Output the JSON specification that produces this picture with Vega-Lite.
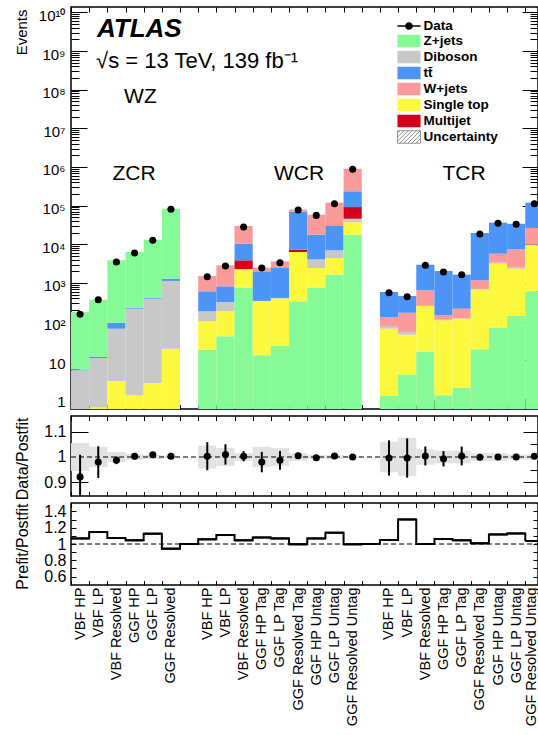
{
  "$schema": "https://vega.github.io/schema/vega-lite/v6.json",
  "autosize": {"type": "pad"},
  "padding": {"left": 13, "top": 5, "right": 0, "bottom": 0},
  "bounds": "flush",
  "spacing": 7,
  "config": {
    "font": "Liberation Sans",
    "view": {"stroke": "#000000", "strokeWidth": 1.5},
    "axis": {"domain": false, "grid": false, "ticks": true, "zindex": 1, "tickColor": "#000000", "tickWidth": 1, "labelColor": "#000000", "titleColor": "#000000", "labelFont": "Liberation Sans", "titleFont": "Liberation Sans", "titleFontWeight": "normal"}
  },
  "datasets": {
    "stack": [
      {"bin": 0, "region": "ZCR", "process": "Diboson", "n": 5.5},
      {"bin": 0, "region": "ZCR", "process": "tt\u0304", "n": 0.3},
      {"bin": 0, "region": "ZCR", "process": "Z+jets", "n": 172},
      {"bin": 1, "region": "ZCR", "process": "Single top", "n": 0.6},
      {"bin": 1, "region": "ZCR", "process": "Diboson", "n": 10.9},
      {"bin": 1, "region": "ZCR", "process": "tt\u0304", "n": 0.9},
      {"bin": 1, "region": "ZCR", "process": "Z+jets", "n": 358},
      {"bin": 2, "region": "ZCR", "process": "Single top", "n": 2.9},
      {"bin": 2, "region": "ZCR", "process": "Diboson", "n": 63},
      {"bin": 2, "region": "ZCR", "process": "tt\u0304", "n": 28},
      {"bin": 2, "region": "ZCR", "process": "Z+jets", "n": 3776},
      {"bin": 3, "region": "ZCR", "process": "Single top", "n": 1.25},
      {"bin": 3, "region": "ZCR", "process": "Diboson", "n": 215},
      {"bin": 3, "region": "ZCR", "process": "tt\u0304", "n": 9},
      {"bin": 3, "region": "ZCR", "process": "Z+jets", "n": 6075},
      {"bin": 4, "region": "ZCR", "process": "Single top", "n": 2.6},
      {"bin": 4, "region": "ZCR", "process": "Diboson", "n": 390},
      {"bin": 4, "region": "ZCR", "process": "tt\u0304", "n": 17},
      {"bin": 4, "region": "ZCR", "process": "Z+jets", "n": 12790},
      {"bin": 5, "region": "ZCR", "process": "Single top", "n": 20},
      {"bin": 5, "region": "ZCR", "process": "Diboson", "n": 1110},
      {"bin": 5, "region": "ZCR", "process": "tt\u0304", "n": 160},
      {"bin": 5, "region": "ZCR", "process": "Z+jets", "n": 81700},
      {"bin": 7, "region": "WCR", "process": "Z+jets", "n": 18.8},
      {"bin": 7, "region": "WCR", "process": "Single top", "n": 85},
      {"bin": 7, "region": "WCR", "process": "Diboson", "n": 81},
      {"bin": 7, "region": "WCR", "process": "tt\u0304", "n": 425},
      {"bin": 7, "region": "WCR", "process": "W+jets", "n": 900},
      {"bin": 8, "region": "WCR", "process": "Z+jets", "n": 42},
      {"bin": 8, "region": "WCR", "process": "Single top", "n": 146},
      {"bin": 8, "region": "WCR", "process": "Diboson", "n": 134},
      {"bin": 8, "region": "WCR", "process": "tt\u0304", "n": 498},
      {"bin": 8, "region": "WCR", "process": "W+jets", "n": 2040},
      {"bin": 9, "region": "WCR", "process": "Z+jets", "n": 755},
      {"bin": 9, "region": "WCR", "process": "Single top", "n": 1505},
      {"bin": 9, "region": "WCR", "process": "Diboson", "n": 30},
      {"bin": 9, "region": "WCR", "process": "Multijet", "n": 1570},
      {"bin": 9, "region": "WCR", "process": "tt\u0304", "n": 6540},
      {"bin": 9, "region": "WCR", "process": "W+jets", "n": 19400},
      {"bin": 10, "region": "WCR", "process": "Z+jets", "n": 13.5},
      {"bin": 10, "region": "WCR", "process": "Single top", "n": 322},
      {"bin": 10, "region": "WCR", "process": "Diboson", "n": 9},
      {"bin": 10, "region": "WCR", "process": "tt\u0304", "n": 1655},
      {"bin": 10, "region": "WCR", "process": "W+jets", "n": 480},
      {"bin": 11, "region": "WCR", "process": "Z+jets", "n": 23.5},
      {"bin": 11, "region": "WCR", "process": "Single top", "n": 370},
      {"bin": 11, "region": "WCR", "process": "Diboson", "n": 17},
      {"bin": 11, "region": "WCR", "process": "tt\u0304", "n": 2030},
      {"bin": 11, "region": "WCR", "process": "W+jets", "n": 1190},
      {"bin": 12, "region": "WCR", "process": "Z+jets", "n": 336},
      {"bin": 12, "region": "WCR", "process": "Single top", "n": 5994},
      {"bin": 12, "region": "WCR", "process": "Multijet", "n": 920},
      {"bin": 12, "region": "WCR", "process": "tt\u0304", "n": 62750},
      {"bin": 12, "region": "WCR", "process": "W+jets", "n": 9000},
      {"bin": 13, "region": "WCR", "process": "Z+jets", "n": 755},
      {"bin": 13, "region": "WCR", "process": "Single top", "n": 1685},
      {"bin": 13, "region": "WCR", "process": "Diboson", "n": 1650},
      {"bin": 13, "region": "WCR", "process": "tt\u0304", "n": 13610},
      {"bin": 13, "region": "WCR", "process": "W+jets", "n": 40600},
      {"bin": 14, "region": "WCR", "process": "Z+jets", "n": 1640},
      {"bin": 14, "region": "WCR", "process": "Single top", "n": 2790},
      {"bin": 14, "region": "WCR", "process": "Diboson", "n": 2570},
      {"bin": 14, "region": "WCR", "process": "tt\u0304", "n": 22800},
      {"bin": 14, "region": "WCR", "process": "W+jets", "n": 90200},
      {"bin": 15, "region": "WCR", "process": "Z+jets", "n": 17700},
      {"bin": 15, "region": "WCR", "process": "Single top", "n": 20000},
      {"bin": 15, "region": "WCR", "process": "Diboson", "n": 8300},
      {"bin": 15, "region": "WCR", "process": "Multijet", "n": 46000},
      {"bin": 15, "region": "WCR", "process": "tt\u0304", "n": 143000},
      {"bin": 15, "region": "WCR", "process": "W+jets", "n": 665000},
      {"bin": 17, "region": "TCR", "process": "Z+jets", "n": 1.2},
      {"bin": 17, "region": "TCR", "process": "Single top", "n": 64.8},
      {"bin": 17, "region": "TCR", "process": "Diboson", "n": 11},
      {"bin": 17, "region": "TCR", "process": "W+jets", "n": 55},
      {"bin": 17, "region": "TCR", "process": "tt\u0304", "n": 453},
      {"bin": 18, "region": "TCR", "process": "Z+jets", "n": 4.3},
      {"bin": 18, "region": "TCR", "process": "Single top", "n": 41.7},
      {"bin": 18, "region": "TCR", "process": "Diboson", "n": 8},
      {"bin": 18, "region": "TCR", "process": "W+jets", "n": 116},
      {"bin": 18, "region": "TCR", "process": "tt\u0304", "n": 290},
      {"bin": 19, "region": "TCR", "process": "Z+jets", "n": 17},
      {"bin": 19, "region": "TCR", "process": "Single top", "n": 237},
      {"bin": 19, "region": "TCR", "process": "Diboson", "n": 3},
      {"bin": 19, "region": "TCR", "process": "W+jets", "n": 393},
      {"bin": 19, "region": "TCR", "process": "tt\u0304", "n": 2320},
      {"bin": 20, "region": "TCR", "process": "Z+jets", "n": 1.25},
      {"bin": 20, "region": "TCR", "process": "Single top", "n": 106.75},
      {"bin": 20, "region": "TCR", "process": "Diboson", "n": 4},
      {"bin": 20, "region": "TCR", "process": "W+jets", "n": 34},
      {"bin": 20, "region": "TCR", "process": "tt\u0304", "n": 1894},
      {"bin": 21, "region": "TCR", "process": "Z+jets", "n": 1.96},
      {"bin": 21, "region": "TCR", "process": "Single top", "n": 117},
      {"bin": 21, "region": "TCR", "process": "Diboson", "n": 4},
      {"bin": 21, "region": "TCR", "process": "W+jets", "n": 93},
      {"bin": 21, "region": "TCR", "process": "tt\u0304", "n": 1424},
      {"bin": 22, "region": "TCR", "process": "Z+jets", "n": 19.3},
      {"bin": 22, "region": "TCR", "process": "Single top", "n": 668},
      {"bin": 22, "region": "TCR", "process": "Diboson", "n": 13},
      {"bin": 22, "region": "TCR", "process": "W+jets", "n": 475},
      {"bin": 22, "region": "TCR", "process": "tt\u0304", "n": 18425},
      {"bin": 23, "region": "TCR", "process": "Z+jets", "n": 70},
      {"bin": 23, "region": "TCR", "process": "Single top", "n": 3080},
      {"bin": 23, "region": "TCR", "process": "Diboson", "n": 200},
      {"bin": 23, "region": "TCR", "process": "W+jets", "n": 2370},
      {"bin": 23, "region": "TCR", "process": "tt\u0304", "n": 30580},
      {"bin": 24, "region": "TCR", "process": "Z+jets", "n": 140},
      {"bin": 24, "region": "TCR", "process": "Single top", "n": 2200},
      {"bin": 24, "region": "TCR", "process": "Diboson", "n": 180},
      {"bin": 24, "region": "TCR", "process": "W+jets", "n": 4880},
      {"bin": 24, "region": "TCR", "process": "tt\u0304", "n": 26600},
      {"bin": 25, "region": "TCR", "process": "Z+jets", "n": 610},
      {"bin": 25, "region": "TCR", "process": "Single top", "n": 8830},
      {"bin": 25, "region": "TCR", "process": "Diboson", "n": 560},
      {"bin": 25, "region": "TCR", "process": "W+jets", "n": 16500},
      {"bin": 25, "region": "TCR", "process": "tt\u0304", "n": 93500}
    ],
    "obs": [
      {"bin": 0, "n": 155}, {"bin": 1, "n": 370}, {"bin": 2, "n": 3480}, {"bin": 3, "n": 5970},
      {"bin": 4, "n": 12700}, {"bin": 5, "n": 80400},
      {"bin": 7, "n": 1455}, {"bin": 8, "n": 2750}, {"bin": 9, "n": 28000}, {"bin": 10, "n": 2440},
      {"bin": 11, "n": 3350}, {"bin": 12, "n": 77000}, {"bin": 13, "n": 56000}, {"bin": 14, "n": 112000},
      {"bin": 15, "n": 870000},
      {"bin": 17, "n": 560}, {"bin": 18, "n": 440}, {"bin": 19, "n": 2870}, {"bin": 20, "n": 1920},
      {"bin": 21, "n": 1640}, {"bin": 22, "n": 18500}, {"bin": 23, "n": 35000}, {"bin": 24, "n": 33000},
      {"bin": 25, "n": 112000}
    ],
    "ratio": [
      {"bin": 0, "r": 0.922, "elo": 0.83, "ehi": 1.009, "ulo": 0.945, "uhi": 1.055},
      {"bin": 1, "r": 0.98, "elo": 0.918, "ehi": 1.042, "ulo": 0.96, "uhi": 1.04},
      {"bin": 2, "r": 0.987, "elo": 0.972, "ehi": 1.002, "ulo": 0.98, "uhi": 1.02},
      {"bin": 3, "r": 1.003, "elo": 0.99, "ehi": 1.016, "ulo": 0.988, "uhi": 1.012},
      {"bin": 4, "r": 1.009, "elo": 1.004, "ehi": 1.014, "ulo": 0.992, "uhi": 1.008},
      {"bin": 5, "r": 1.003, "elo": 0.999, "ehi": 1.007, "ulo": 0.995, "uhi": 1.005},
      {"bin": 7, "r": 1.003, "elo": 0.948, "ehi": 1.058, "ulo": 0.955, "uhi": 1.045},
      {"bin": 8, "r": 1.01, "elo": 0.97, "ehi": 1.05, "ulo": 0.965, "uhi": 1.035},
      {"bin": 9, "r": 1.003, "elo": 0.983, "ehi": 1.023, "ulo": 0.985, "uhi": 1.015},
      {"bin": 10, "r": 0.98, "elo": 0.94, "ehi": 1.02, "ulo": 0.96, "uhi": 1.04},
      {"bin": 11, "r": 0.987, "elo": 0.95, "ehi": 1.024, "ulo": 0.965, "uhi": 1.035},
      {"bin": 12, "r": 1.005, "elo": 0.993, "ehi": 1.017, "ulo": 0.985, "uhi": 1.015},
      {"bin": 13, "r": 0.997, "elo": 0.99, "ehi": 1.004, "ulo": 0.993, "uhi": 1.007},
      {"bin": 14, "r": 1.004, "elo": 0.998, "ehi": 1.01, "ulo": 0.992, "uhi": 1.008},
      {"bin": 15, "r": 1.0, "elo": 0.997, "ehi": 1.003, "ulo": 0.996, "uhi": 1.004},
      {"bin": 17, "r": 0.996, "elo": 0.927, "ehi": 1.065, "ulo": 0.94, "uhi": 1.06},
      {"bin": 18, "r": 0.996, "elo": 0.919, "ehi": 1.073, "ulo": 0.925, "uhi": 1.075},
      {"bin": 19, "r": 1.004, "elo": 0.967, "ehi": 1.041, "ulo": 0.97, "uhi": 1.03},
      {"bin": 20, "r": 0.993, "elo": 0.963, "ehi": 1.023, "ulo": 0.975, "uhi": 1.025},
      {"bin": 21, "r": 1.004, "elo": 0.967, "ehi": 1.041, "ulo": 0.975, "uhi": 1.025},
      {"bin": 22, "r": 0.999, "elo": 0.993, "ehi": 1.005, "ulo": 0.985, "uhi": 1.015},
      {"bin": 23, "r": 1.0, "elo": 0.99, "ehi": 1.01, "ulo": 0.985, "uhi": 1.015},
      {"bin": 24, "r": 1.0, "elo": 0.992, "ehi": 1.008, "ulo": 0.99, "uhi": 1.01},
      {"bin": 25, "r": 1.003, "elo": 0.993, "ehi": 1.013, "ulo": 0.99, "uhi": 1.01}
    ],
    "prefit": [
      {"bin": 0, "r": 1.069}, {"bin": 1, "r": 1.147}, {"bin": 2, "r": 1.073}, {"bin": 3, "r": 1.045},
      {"bin": 4, "r": 1.127}, {"bin": 5, "r": 0.943}, {"bin": 6, "r": 1.0}, {"bin": 7, "r": 1.057},
      {"bin": 8, "r": 1.11}, {"bin": 9, "r": 1.045}, {"bin": 10, "r": 1.08}, {"bin": 11, "r": 1.069},
      {"bin": 12, "r": 0.996}, {"bin": 13, "r": 1.069}, {"bin": 14, "r": 1.139}, {"bin": 15, "r": 0.996},
      {"bin": 16, "r": 1.0}, {"bin": 17, "r": 1.049}, {"bin": 18, "r": 1.302}, {"bin": 19, "r": 1.0},
      {"bin": 20, "r": 1.061}, {"bin": 21, "r": 1.045}, {"bin": 22, "r": 1.008}, {"bin": 23, "r": 1.118},
      {"bin": 24, "r": 1.13}, {"bin": 25, "r": 1.037}
    ]
  },
  "vconcat": [
    {
      "width": 467,
      "height": 402,
      "resolve": {"axis": {"x": "independent", "y": "independent"}},
      "layer": [
        {
          "data": {"name": "stack"},
          "transform": [
            {"calculate": "indexof(datum.region === 'ZCR' ? ['Single top','Diboson','tt\u0304','Z+jets'] : datum.region === 'WCR' ? ['Z+jets','Single top','Diboson','Multijet','tt\u0304','W+jets'] : ['Z+jets','Single top','Diboson','W+jets','tt\u0304'], datum.process)", "as": "rank"},
            {"window": [{"op": "sum", "field": "n", "as": "top"}], "groupby": ["bin"], "sort": [{"field": "rank", "order": "ascending"}], "frame": [null, 0]},
            {"calculate": "datum.top - datum.n", "as": "base"},
            {"calculate": "datum.bin + 1", "as": "bin_end"}
          ],
          "mark": {"type": "rect"},
          "encoding": {
            "x": {"field": "bin", "type": "quantitative", "scale": {"domain": [0, 25.7], "nice": false, "zero": false, "clamp": true},
              "axis": {"orient": "bottom", "title": null, "labels": false, "values": [1,2,3,4,6,7,8,9,11,12,13,14,16,17,18,19,21,22,23,24], "tickSize": 4.5, "offset": -4.5}},
            "x2": {"field": "bin_end"},
            "y": {"field": "top", "type": "quantitative", "scale": {"type": "log", "domain": [0.551, 13740000000], "nice": false, "clamp": true},
              "axis": {"orient": "left", "title": "Events", "titleFontSize": 15, "titleX": -73, "titleY": 2, "titleAngle": 270, "titleAlign": "right", "titleBaseline": "top",
                "values": [1, 10, 100, 1000, 10000, 100000, 1e6, 1e7, 1e8, 1e9, 1e10],
                "labelExpr": "['1', '10', '10\u00b2', '10\u00b3', '10\u2074', '10\u2075', '10\u2076', '10\u2077', '10\u2078', '10\u2079', '10\u00b9\u2070'][round(log(datum.value)/LN10)]",
                "labelFontSize": 15, "labelPadding": 6, "labelOffset": 3, "labelOverlap": false, "labelBound": false, "labelFlush": false,
                "tickSize": 16, "offset": -16}},
            "y2": {"field": "base"},
            "color": {"field": "process", "type": "nominal",
              "scale": {"domain": ["Data", "Z+jets", "Diboson", "tt\u0304", "W+jets", "Single top", "Multijet", "Uncertainty"],
                        "range": ["#000000", "#86fa96", "#c8c8c8", "#4d94f7", "#fa9a9a", "#fbf83e", "#d2001a", "#ffffff"]},
              "legend": {"orient": "none", "legendX": 331, "legendY": 12, "title": null, "padding": 0, "rowPadding": 0,
                "symbolSize": 156, "labelFontSize": 13.5, "labelFontWeight": "bold", "labelFont": "Liberation Sans", "labelColor": "#000000", "labelOffset": 7.5,
                "encoding": {
                  "symbols": {
                    "shape": {"condition": [
                      {"test": "datum.value === 'Data'", "value": "M-1.85,-0.12H1.85V0.12H-1.85Z M-0.62,0A0.62,0.62 0 1,1 0.62,0A0.62,0.62 0 1,1 -0.62,0Z"},
                      {"test": "datum.value === 'Uncertainty'", "value": "M-1.85,-1H1.85V1H-1.85Z M-1.85,-0.6L-1.45,-1 M-1.85,0.05L-0.8,-1 M-1.85,0.7L-0.15,-1 M-1.5,1L0.5,-1 M-0.85,1L1.15,-1 M-0.2,1L1.8,-1 M0.45,1L1.85,-0.4 M1.1,1L1.85,0.25"}
                    ], "value": "M-1.85,-1H1.85V1H-1.85Z"},
                    "fill": {"condition": [
                      {"test": "datum.value === 'Data'", "value": "#000000"},
                      {"test": "datum.value === 'Z+jets'", "value": "#86fa96"},
                      {"test": "datum.value === 'Diboson'", "value": "#c8c8c8"},
                      {"test": "datum.value === 'W+jets'", "value": "#fa9a9a"},
                      {"test": "datum.value === 'Single top'", "value": "#fbf83e"},
                      {"test": "datum.value === 'Multijet'", "value": "#d2001a"},
                      {"test": "datum.value === 'Uncertainty'", "value": "#ffffff"}
                    ], "value": "#4d94f7"},
                    "stroke": {"condition": {"test": "datum.value === 'Uncertainty'", "value": "#777777"}, "value": "transparent"},
                    "strokeWidth": {"value": 0.8},
                    "opacity": {"value": 1}
                  }
                }}}
          }
        },
        {
          "data": {"name": "obs"},
          "transform": [{"calculate": "datum.bin + 0.5", "as": "center"}],
          "mark": {"type": "point", "filled": true, "color": "#000000", "size": 50, "opacity": 1},
          "encoding": {
            "x": {"field": "center", "type": "quantitative", "scale": {"domain": [0, 25.7], "nice": false, "zero": false, "clamp": true},
              "axis": {"orient": "top", "title": null, "labels": false, "values": [0,1,2,3,4,5,6,7,8,9,10,11,12,13,14,15,16,17,18,19,20,21,22,23,24,25], "tickSize": 5, "offset": -5}},
            "y": {"field": "n", "type": "quantitative", "scale": {"type": "log", "domain": [0.551, 13740000000], "nice": false, "clamp": true},
              "axis": {"orient": "right", "title": null, "labels": false, "values": [1, 10, 100, 1000, 10000, 100000, 1e6, 1e7, 1e8, 1e9, 1e10], "tickSize": 16, "offset": -16}}
          }
        },
        {
          "data": {"values": [{"label": "ATLAS"}]},
          "mark": {"type": "text", "fontSize": 26, "fontWeight": "bold", "fontStyle": "italic", "align": "left", "baseline": "middle", "font": "Liberation Sans", "color": "#000000"},
          "encoding": {"text": {"field": "label"},
            "x": {"datum": 1.43, "type": "quantitative",
              "axis": {"orient": "bottom", "title": null, "labels": false, "values": [0, 5, 10, 15, 20, 25], "tickSize": 9, "offset": -9}},
            "y": {"datum": 3700000000, "type": "quantitative",
              "axis": {"orient": "left", "title": null, "labels": false, "tickSize": 8, "offset": -8,
                "values": [0.6,0.7,0.8,0.9,2,3,4,5,6,7,8,9,20,30,40,50,60,70,80,90,200,300,400,500,600,700,800,900,2000,3000,4000,5000,6000,7000,8000,9000,20000,30000,40000,50000,60000,70000,80000,90000,200000,300000,400000,500000,600000,700000,800000,900000,2e6,3e6,4e6,5e6,6e6,7e6,8e6,9e6,2e7,3e7,4e7,5e7,6e7,7e7,8e7,9e7,2e8,3e8,4e8,5e8,6e8,7e8,8e8,9e8,2e9,3e9,4e9,5e9,6e9,7e9,8e9,9e9]}}}
        },
        {
          "data": {"values": [{"label": "\u221as = 13 TeV, 139 fb\u207b\u00b9"}]},
          "mark": {"type": "text", "fontSize": 22, "align": "left", "baseline": "middle", "font": "Liberation Sans", "color": "#000000"},
          "encoding": {"text": {"field": "label"},
            "x": {"datum": 1.38, "type": "quantitative", "axis": null},
            "y": {"datum": 550000000, "type": "quantitative",
              "axis": {"orient": "right", "title": null, "labels": false, "tickSize": 8, "offset": -8,
                "values": [0.6,0.7,0.8,0.9,2,3,4,5,6,7,8,9,20,30,40,50,60,70,80,90,200,300,400,500,600,700,800,900,2000,3000,4000,5000,6000,7000,8000,9000,20000,30000,40000,50000,60000,70000,80000,90000,200000,300000,400000,500000,600000,700000,800000,900000,2e6,3e6,4e6,5e6,6e6,7e6,8e6,9e6,2e7,3e7,4e7,5e7,6e7,7e7,8e7,9e7,2e8,3e8,4e8,5e8,6e8,7e8,8e8,9e8,2e9,3e9,4e9,5e9,6e9,7e9,8e9,9e9]}}}
        },
        {
          "data": {"values": [{"label": "WZ"}]},
          "mark": {"type": "text", "fontSize": 21, "align": "left", "baseline": "middle", "font": "Liberation Sans", "color": "#000000"},
          "encoding": {"text": {"field": "label"}, "x": {"datum": 2.92, "type": "quantitative", "axis": null}, "y": {"datum": 63000000, "type": "quantitative", "axis": null}}
        },
        {
          "data": {"values": [{"label": "ZCR"}]},
          "mark": {"type": "text", "fontSize": 21, "align": "center", "baseline": "middle", "font": "Liberation Sans", "color": "#000000"},
          "encoding": {"text": {"field": "label"}, "x": {"datum": 3.47, "type": "quantitative", "axis": null}, "y": {"datum": 640000, "type": "quantitative", "axis": null}}
        },
        {
          "data": {"values": [{"label": "WCR"}]},
          "mark": {"type": "text", "fontSize": 21, "align": "center", "baseline": "middle", "font": "Liberation Sans", "color": "#000000"},
          "encoding": {"text": {"field": "label"}, "x": {"datum": 12.55, "type": "quantitative", "axis": null}, "y": {"datum": 640000, "type": "quantitative", "axis": null}}
        },
        {
          "data": {"values": [{"label": "TCR"}]},
          "mark": {"type": "text", "fontSize": 21, "align": "center", "baseline": "middle", "font": "Liberation Sans", "color": "#000000"},
          "encoding": {"text": {"field": "label"}, "x": {"datum": 21.63, "type": "quantitative", "axis": null}, "y": {"datum": 640000, "type": "quantitative", "axis": null}}
        }
      ]
    },
    {
      "width": 467,
      "height": 80,
      "resolve": {"axis": {"x": "independent", "y": "independent"}},
      "layer": [
        {
          "data": {"name": "ratio"},
          "transform": [{"calculate": "datum.bin + 1", "as": "bin_end"}],
          "mark": {"type": "rect", "fill": "#e2e2e2"},
          "encoding": {
            "x": {"field": "bin", "type": "quantitative", "scale": {"domain": [0, 25.7], "nice": false, "zero": false, "clamp": true},
              "axis": {"orient": "bottom", "title": null, "labels": false, "values": [0,1,2,3,4,5,6,7,8,9,10,11,12,13,14,15,16,17,18,19,20,21,22,23,24,25], "tickSize": 4.5, "offset": -4.5}},
            "x2": {"field": "bin_end"},
            "y": {"field": "ulo", "type": "quantitative", "scale": {"domain": [0.847, 1.1608], "nice": false, "zero": false, "clamp": true},
              "axis": {"orient": "left", "title": "Data/Postfit", "titleFontSize": 16, "titleX": -74, "titleY": 1, "titleAngle": 270, "titleAlign": "right", "titleBaseline": "top",
                "values": [0.9, 1, 1.1],
                "labelExpr": "datum.value === 1 ? '1' : format(datum.value, '.1f')",
                "labelFontSize": 16, "labelPadding": 5, "labelOverlap": false, "labelBound": false, "labelFlush": false,
                "tickSize": 17, "offset": -17}},
            "y2": {"field": "uhi"}
          }
        },
        {
          "data": {"values": [{"ref": 1}]},
          "mark": {"type": "rule", "color": "#000000", "strokeWidth": 1, "strokeDash": [5, 3]},
          "encoding": {
            "x": {"datum": 0, "type": "quantitative", "axis": null},
            "x2": {"datum": 25.7},
            "y": {"field": "ref", "type": "quantitative",
              "axis": {"orient": "left", "title": null, "labels": false, "values": [0.95, 1.05], "tickSize": 8, "offset": -8}}}
        },
        {
          "data": {"name": "ratio"},
          "transform": [{"calculate": "datum.bin + 0.5", "as": "center"}],
          "mark": {"type": "rule", "color": "#000000", "strokeWidth": 2},
          "encoding": {
            "x": {"field": "center", "type": "quantitative", "axis": null},
            "y": {"field": "elo", "type": "quantitative",
              "axis": {"orient": "right", "title": null, "labels": false, "values": [0.95, 1.05], "tickSize": 8, "offset": -8}},
            "y2": {"field": "ehi"}
          }
        },
        {
          "data": {"name": "ratio"},
          "transform": [{"calculate": "datum.bin + 0.5", "as": "center"}],
          "mark": {"type": "point", "filled": true, "color": "#000000", "size": 50, "opacity": 1},
          "encoding": {
            "x": {"field": "center", "type": "quantitative",
              "axis": {"orient": "top", "title": null, "labels": false, "values": [0,1,2,3,4,5,6,7,8,9,10,11,12,13,14,15,16,17,18,19,20,21,22,23,24,25], "tickSize": 4.5, "offset": -4.5}},
            "y": {"field": "r", "type": "quantitative",
              "axis": {"orient": "right", "title": null, "labels": false, "values": [0.9, 1, 1.1], "tickSize": 15, "offset": -15}}
          }
        }
      ]
    },
    {
      "width": 467,
      "height": 82,
      "resolve": {"axis": {"x": "independent", "y": "independent"}},
      "layer": [
        {
          "data": {"values": [{"ref": 1}]},
          "mark": {"type": "rule", "color": "#000000", "strokeWidth": 1, "strokeDash": [5, 3]},
          "encoding": {
            "x": {"datum": 0, "type": "quantitative", "scale": {"domain": [0, 25.7], "nice": false, "zero": false, "clamp": true},
              "axis": {"orient": "bottom", "title": null, "labels": false, "values": [0,1,2,3,4,5,6,7,8,9,10,11,12,13,14,15,16,17,18,19,20,21,22,23,24,25], "tickSize": 4.5, "offset": -4.5}},
            "x2": {"datum": 25.7},
            "y": {"field": "ref", "type": "quantitative", "axis": null, "scale": {"domain": [0.4963, 1.5037], "nice": false, "zero": false, "clamp": true}}}
        },
        {
          "data": {"name": "prefit"},
          "transform": [{"calculate": "datum.bin + 1", "as": "bin_end"}],
          "mark": {"type": "rule", "color": "#000000", "strokeWidth": 2},
          "encoding": {
            "x": {"field": "bin", "type": "quantitative",
              "axis": {"orient": "bottom", "title": null, "ticks": false, "tickSize": 0,
                "values": [0.5,1.5,2.5,3.5,4.5,5.5,7.5,8.5,9.5,10.5,11.5,12.5,13.5,14.5,15.5,17.5,18.5,19.5,20.5,21.5,22.5,23.5,24.5,25.5],
                "labelExpr": "['VBF HP','VBF LP','VBF Resolved','GGF HP','GGF LP','GGF Resolved','','VBF HP','VBF LP','VBF Resolved','GGF HP Tag','GGF LP Tag','GGF Resolved Tag','GGF HP Untag','GGF LP Untag','GGF Resolved Untag','','VBF HP','VBF LP','VBF Resolved','GGF HP Tag','GGF LP Tag','GGF Resolved Tag','GGF HP Untag','GGF LP Untag','GGF Resolved Untag'][floor(datum.value)]",
                "labelAngle": 270, "labelAlign": "right", "labelBaseline": "middle", "labelFontSize": 14.5, "labelPadding": 2,
                "labelOverlap": false, "labelFlush": false, "labelBound": false, "labelLimit": 300,
                "labelOffset": {"condition": {"test": "datum.value > 25", "value": -3}, "value": 0}}},
            "x2": {"field": "bin_end"},
            "y": {"field": "r", "type": "quantitative",
              "axis": {"orient": "left", "title": "Prefit/Postfit", "titleFontSize": 16, "titleX": -62, "titleY": 0, "titleAngle": 270, "titleAlign": "right", "titleBaseline": "top",
                "values": [0.6, 0.7, 0.8, 0.9, 1, 1.1, 1.2, 1.3, 1.4],
                "labelExpr": "round(datum.value*10) % 2 === 0 ? (datum.value === 1 ? '1' : format(datum.value, '.1f')) : ''",
                "labelFontSize": 16, "labelPadding": 5, "labelOverlap": false, "labelBound": false, "labelFlush": false,
                "tickSize": 5, "offset": -5}}
          }
        },
        {
          "data": {"name": "prefit"},
          "mark": {"type": "line", "color": "#000000", "strokeWidth": 2, "interpolate": "step-after"},
          "encoding": {
            "x": {"field": "bin", "type": "quantitative",
              "axis": {"orient": "top", "title": null, "labels": false, "values": [0,1,2,3,4,5,6,7,8,9,10,11,12,13,14,15,16,17,18,19,20,21,22,23,24,25], "tickSize": 4.5, "offset": -4.5}},
            "y": {"field": "r", "type": "quantitative",
              "axis": {"orient": "right", "title": null, "labels": false, "values": [0.6, 0.7, 0.8, 0.9, 1, 1.1, 1.2, 1.3, 1.4], "tickSize": 5, "offset": -5}}
          }
        }
      ]
    }
  ]
}
